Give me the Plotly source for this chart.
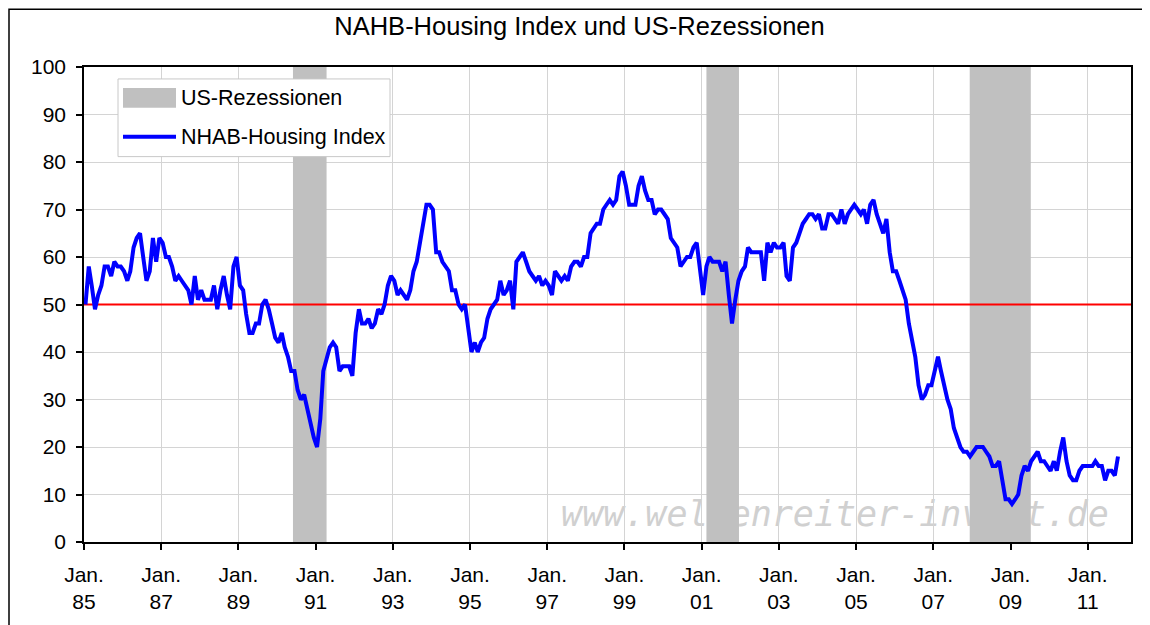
import plotly.graph_objects as go

# ---------------- data (monthly NAHB index, Jan 1985 - Oct 2011) ----------------
hmi_1985 = [50, 58, 54, 49, 52, 54, 58, 58, 56, 59, 58, 58]
hmi_1986 = [57, 55, 57, 62, 64, 65, 60, 55, 57, 64, 59, 64]
hmi_1987 = [63, 60, 60, 58, 55, 56, 55, 54, 53, 50, 56, 51]
hmi_1988 = [53, 51, 51, 51, 54, 49, 53, 56, 52, 49, 58, 60]
hmi_1989 = [54, 53, 48, 44, 44, 46, 46, 50, 51, 49, 46, 43]
hmi_1990 = [42, 44, 41, 39, 36, 36, 32, 30, 31, 28, 25, 22]
hmi_1991 = [20, 26, 36, 39, 41, 42, 41, 36, 37, 37, 37, 35]
hmi_1992 = [44, 49, 46, 46, 47, 45, 46, 49, 48, 50, 54, 56]
hmi_1993 = [55, 52, 53, 52, 51, 53, 57, 59, 63, 66, 71, 71]
hmi_1994 = [70, 61, 61, 59, 58, 57, 53, 53, 50, 49, 50, 45]
hmi_1995 = [40, 42, 40, 42, 43, 47, 49, 50, 51, 55, 52, 53]
hmi_1996 = [55, 49, 59, 60, 61, 59, 57, 56, 55, 56, 54, 55]
hmi_1997 = [54, 52, 57, 56, 55, 56, 55, 58, 59, 59, 58, 60]
hmi_1998 = [60, 65, 66, 67, 67, 70, 71, 72, 71, 72, 77, 78]
hmi_1999 = [75, 71, 71, 71, 75, 77, 74, 72, 72, 69, 70, 70]
hmi_2000 = [69, 68, 64, 63, 62, 58, 59, 60, 60, 62, 63, 57]
hmi_2001 = [52, 58, 60, 59, 59, 59, 57, 59, 52, 46, 51, 55]
hmi_2002 = [57, 58, 62, 61, 61, 61, 61, 55, 63, 61, 63, 62]
hmi_2003 = [62, 63, 56, 55, 62, 63, 65, 67, 68, 69, 69, 68]
hmi_2004 = [69, 66, 66, 69, 69, 68, 67, 70, 67, 69, 70, 71]
hmi_2005 = [70, 69, 70, 67, 71, 72, 69, 67, 65, 68, 61, 57]
hmi_2006 = [57, 55, 53, 51, 46, 42, 39, 33, 30, 31, 33, 33]
hmi_2007 = [36, 39, 36, 33, 30, 28, 24, 22, 20, 19, 19, 18]
hmi_2008 = [19, 20, 20, 20, 19, 18, 16, 16, 17, 13, 9, 9]
hmi_2009 = [8, 9, 10, 14, 16, 15, 17, 18, 19, 17, 17, 16]
hmi_2010 = [15, 17, 15, 19, 22, 17, 14, 13, 13, 15, 16, 16]
hmi_2011 = [16, 16, 17, 16, 16, 13, 15, 15, 14, 18]

yearly = [hmi_1985, hmi_1986, hmi_1987, hmi_1988, hmi_1989, hmi_1990, hmi_1991,
          hmi_1992, hmi_1993, hmi_1994, hmi_1995, hmi_1996, hmi_1997, hmi_1998,
          hmi_1999, hmi_2000, hmi_2001, hmi_2002, hmi_2003, hmi_2004, hmi_2005,
          hmi_2006, hmi_2007, hmi_2008, hmi_2009, hmi_2010, hmi_2011]

recession_start = ["1990-06-01", "2001-02-15", "2007-12-12"]
recession_end = ["1991-04-15", "2001-12-20", "2009-07-12"]

threshold = 50
x_range = ["1985-01-01", "2012-02-15"]
tick_years = list(range(1985, 2012, 2))
tick_labels = [f"Jan.<br>{y % 100:02d}" for y in tick_years]

title_text = "NAHB-Housing Index und US-Rezessionen"
legend_rec = "US-Rezessionen"
legend_line = "NHAB-Housing Index"
watermark = "www.wellenreiter-invest.de"

# ---------------- build ----------------
dates, values = [], []
for i, vals in enumerate(yearly):
    y = 1985 + i
    for m, v in enumerate(vals):
        dates.append(f"{y}-{m + 1:02d}-15")
        values.append(v)

FONT = "Liberation Sans, Arial, sans-serif"
OFF = 8                      # page body margin
W, H = 1150 - OFF, 625 - OFF
PL, PT, PR, PB = 84, 67, 1131, 544   # plot area in page pixels
L, T = PL - OFF, PT - OFF
R, B = W - (PR - OFF), H - (PB - OFF)
PW, PH = PR - PL, PB - PT


def px(x):
    return (x - PL) / PW


def py(y):
    return (PB - y) / PH


fig = go.Figure()

# 50-level reference line across the whole axis range
fig.add_trace(go.Scatter(
    x=x_range, y=[threshold, threshold], mode="lines", name="50",
    line=dict(color="#ff0000", width=2), showlegend=False, hoverinfo="skip",
))
fig.add_trace(go.Scatter(
    x=dates, y=values, mode="lines", name=legend_line,
    line=dict(color="#0000ff", width=4), showlegend=False,
))

shapes = []
# watermark (under the bars)
shapes.append(dict(
    type="rect", xref="paper", yref="paper",
    x0=px(550), x1=px(1120), y0=py(535), y1=py(490),
    line=dict(width=0), fillcolor="rgba(0,0,0,0)", layer="between",
    label=dict(text=watermark, textposition="middle center",
               font=dict(family="DejaVu Sans Mono, monospace", size=35,
                         color="#d0d0d0", style="italic")),
))
for s, e in zip(recession_start, recession_end):
    shapes.append(dict(
        type="rect", xref="x", yref="y", x0=s, x1=e, y0=0, y1=100,
        fillcolor="#c0c0c0", line=dict(width=0), layer="between",
    ))
# legend box
shapes.append(dict(type="rect", xref="paper", yref="paper",
                   x0=px(118), x1=px(390), y0=py(157), y1=py(79),
                   fillcolor="white", line=dict(color="#c8c8c8", width=1), layer="above"))
shapes.append(dict(type="rect", xref="paper", yref="paper",
                   x0=px(123), x1=px(176), y0=py(108), y1=py(88),
                   fillcolor="#c0c0c0", line=dict(width=0), layer="above"))
shapes.append(dict(type="line", xref="paper", yref="paper",
                   x0=px(123), x1=px(176), y0=py(137), y1=py(137),
                   line=dict(color="#0000ff", width=4), layer="above"))
# outer frame
shapes.append(dict(type="rect", xref="paper", yref="paper",
                   x0=px(OFF + 1), x1=px(1170), y0=py(660), y1=py(OFF + 1),
                   fillcolor="rgba(0,0,0,0)", line=dict(color="#000000", width=1.5),
                   layer="above"))

annotations = [
    dict(text=legend_rec, xref="paper", yref="paper", x=px(179), y=py(98),
         xanchor="left", yanchor="middle", showarrow=False,
         font=dict(family=FONT, size=21.5, color="black")),
    dict(text=legend_line, xref="paper", yref="paper", x=px(179), y=py(137),
         xanchor="left", yanchor="middle", showarrow=False,
         font=dict(family=FONT, size=21.5, color="black")),
]

fig.update_layout(
    width=W, height=H,
    margin=dict(l=L, r=R, t=T, b=B, pad=0),
    paper_bgcolor="white", plot_bgcolor="white",
    title=dict(text=title_text, x=(579.5 - OFF) / W, xref="container", xanchor="center",
               y=1 - (26 - OFF) / H, yref="container", yanchor="middle",
               font=dict(family=FONT, size=25.5, color="black")),
    font=dict(family=FONT, size=21, color="black"),
    shapes=shapes, annotations=annotations, showlegend=False,
    xaxis=dict(
        type="date", range=x_range,
        tickvals=[f"{y}-01-01" for y in tick_years], ticktext=tick_labels,
        ticks="outside", ticklen=6, tickcolor="black", tickwidth=1.5,
        ticklabelstandoff=7,
        showline=True, linecolor="black", linewidth=1.5, mirror=True,
        showgrid=True, gridcolor="#d4d4d4", gridwidth=1, zeroline=False,
        tickfont=dict(family=FONT, size=21, color="black"),
    ),
    yaxis=dict(
        range=[0, 100], dtick=10, tick0=0,
        ticks="outside", ticklen=6, tickcolor="black", tickwidth=1.5,
        ticklabelstandoff=6,
        showline=True, linecolor="black", linewidth=1.5, mirror=True,
        showgrid=True, gridcolor="#d4d4d4", gridwidth=1, zeroline=False,
        tickfont=dict(family=FONT, size=21, color="black"),
    ),
)

fig.write_html("out.html")
